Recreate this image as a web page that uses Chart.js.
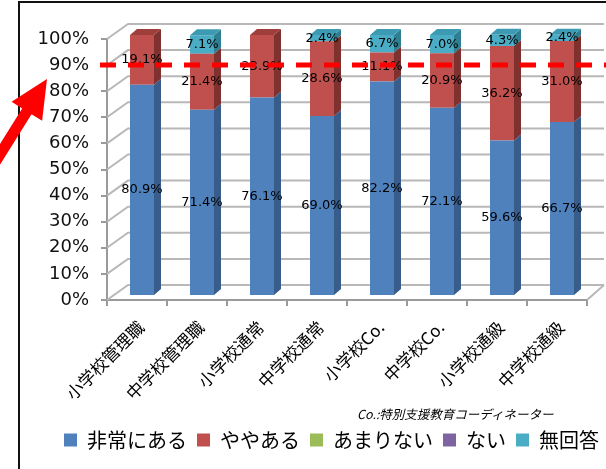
<!DOCTYPE html>
<html>
<head>
<meta charset="utf-8">
<script src="https://cdn.jsdelivr.net/npm/chart.js@4"></script>
<style>
  body { margin: 0; background: #fff; }
  #wrap { position: relative; width: 606px; height: 469px; }
  #note { position: absolute; left: 357px; top: 404px; font: italic 12.5px 'Noto Sans CJK JP'; color: #000; white-space: nowrap; }
</style>
</head>
<body>
<div id="wrap">
  <canvas id="chart" width="606" height="469"></canvas>
  <div id="note">Co.:特別支援教育コーディネーター</div>
</div>
<script>
// --- Data ---
const categories = ['小学校管理職', '中学校管理職', '小学校通常', '中学校通常', '小学校Co.', '中学校Co.', '小学校通級', '中学校通級'];
const seriesNames = ['非常にある', 'ややある', 'あまりない', 'ない', '無回答'];
const veryMuch = [80.9, 71.4, 76.1, 69.0, 82.2, 72.1, 59.6, 66.7];
const somewhat = [19.1, 21.4, 23.9, 28.6, 11.1, 20.9, 36.2, 31.0];
const notMuch = [0, 0, 0, 0, 0, 0, 0, 0];
const notAtAll = [0, 0, 0, 0, 0, 0, 0, 0];
const noAnswer = [0, 7.1, 0, 2.4, 6.7, 7.0, 4.3, 2.4];
const yMin = 0, yMax = 100, yStep = 10;
const targetLine = 90;

// --- Styles ---
const frontColors = ['#4f81bd', '#c0504d', '#9bbb59', '#8064a2', '#4bacc6'];
const sideColors = ['#385d8a', '#7f312f', '#71893f', '#5c4776', '#2f7f92'];
const topColors = ['#4270a6', '#9f3f3c', '#84a04a', '#6c548a', '#3c9bb2'];
const BAR_DX = 7, BAR_DY = 6;      // bar depth
const WALL_DX = 21, WALL_DY = 15;  // back wall depth
const SHIFT_X = 5, SHIFT_Y = -4;   // bars sit a little behind the front axis

const seriesValues = [veryMuch, somewhat, notMuch, notAtAll, noAnswer];

const threeD = {
    id: 'threeD',
    beforeDraw(chart) {
        const { ctx } = chart;
        // outer frame
        ctx.save();
        ctx.strokeStyle = '#111';
        ctx.lineWidth = 2;
        ctx.beginPath();
        ctx.moveTo(19, 469); ctx.lineTo(19, 2); ctx.lineTo(606, 2);
        ctx.stroke();
        ctx.restore();
    },
    beforeDatasetsDraw(chart) {
        const { ctx, chartArea: a, scales: { y } } = chart;
        ctx.save();
        ctx.strokeStyle = '#b8b8b8';
        ctx.lineWidth = 2;
        y.ticks.forEach(t => {
            const py = y.getPixelForValue(t.value);
            ctx.beginPath();
            ctx.moveTo(a.left, py);
            ctx.lineTo(a.left + WALL_DX, py - WALL_DY);
            ctx.lineTo(a.right + WALL_DX - 4, py - WALL_DY);
            ctx.stroke();
        });
        ctx.beginPath();
        ctx.moveTo(a.right, a.bottom);
        ctx.lineTo(a.right + WALL_DX - 4, a.bottom - WALL_DY);
        ctx.stroke();
        ctx.restore();

        ctx.save();
        ctx.translate(SHIFT_X, SHIFT_Y);
    },
    afterDatasetsDraw(chart) {
        const { ctx } = chart;
        const n = categories.length;
        for (let j = 0; j < n; j++) {
            let topIdx = -1;
            seriesValues.forEach((vals, i) => { if (vals[j] > 0) topIdx = i; });
            seriesValues.forEach((vals, i) => {
                if (!(vals[j] > 0)) return;
                const bar = chart.getDatasetMeta(i).data[j];
                const right = bar.x + bar.width / 2, left = bar.x - bar.width / 2;
                const top = Math.min(bar.y, bar.base), bottom = Math.max(bar.y, bar.base);
                ctx.fillStyle = sideColors[i];
                ctx.beginPath();
                ctx.moveTo(right, bottom);
                ctx.lineTo(right, top);
                ctx.lineTo(right + BAR_DX, top - BAR_DY);
                ctx.lineTo(right + BAR_DX, bottom - BAR_DY);
                ctx.closePath();
                ctx.fill();
                if (i === topIdx) {
                    ctx.fillStyle = topColors[i];
                    ctx.beginPath();
                    ctx.moveTo(left, top);
                    ctx.lineTo(left + BAR_DX, top - BAR_DY);
                    ctx.lineTo(right + BAR_DX, top - BAR_DY);
                    ctx.lineTo(right, top);
                    ctx.closePath();
                    ctx.fill();
                }
            });
        }
        // value labels
        ctx.font = '13px "DejaVu Sans"';
        ctx.fillStyle = '#000';
        ctx.textAlign = 'center';
        ctx.textBaseline = 'middle';
        seriesValues.forEach((vals, i) => {
            chart.getDatasetMeta(i).data.forEach((bar, j) => {
                if (!(vals[j] > 0)) return;
                ctx.fillText(vals[j].toFixed(1) + '%', bar.x, (bar.y + bar.base) / 2);
            });
        });
        ctx.restore();
    },
    afterDraw(chart) {
        const { ctx, scales: { y } } = chart;
        const py = y.getPixelForValue(targetLine);
        // red dashed target line
        ctx.save();
        ctx.strokeStyle = '#ff0000';
        ctx.lineWidth = 5;
        ctx.setLineDash([16, 12]);
        ctx.beginPath();
        ctx.moveTo(100, py);
        ctx.lineTo(606, py);
        ctx.stroke();
        ctx.restore();

        // red arrow pointing at the 90% label
        const tipX = 47, tipY = py + 14;
        const ux = 0.53, uy = -0.848, nx = 0.848, ny = 0.53;
        const headL = 38, headW = 18, shaftW = 5.5;
        const bx = tipX - ux * headL, by = tipY - uy * headL;
        const ex = tipX - ux * 140, ey = tipY - uy * 140;
        ctx.save();
        ctx.fillStyle = '#ff0000';
        ctx.beginPath();
        ctx.moveTo(tipX, tipY);
        ctx.lineTo(bx + nx * headW, by + ny * headW);
        ctx.lineTo(bx + nx * shaftW, by + ny * shaftW);
        ctx.lineTo(ex + nx * shaftW, ey + ny * shaftW);
        ctx.lineTo(ex - nx * shaftW, ey - ny * shaftW);
        ctx.lineTo(bx - nx * shaftW, by - ny * shaftW);
        ctx.lineTo(bx - nx * headW, by - ny * headW);
        ctx.closePath();
        ctx.fill();
        ctx.restore();
    },
    afterLayout(chart) {
        // legend sits right of centre in the original
        chart.legend.left += 38;
        chart.legend.right += 38;
    }
};

new Chart(document.getElementById('chart'), {
    type: 'bar',
    data: {
        labels: categories,
        datasets: seriesNames.map((name, i) => ({
            label: name,
            data: seriesValues[i],
            backgroundColor: frontColors[i],
            borderWidth: 0,
            clip: false
        }))
    },
    options: {
        responsive: false,
        animation: false,
        devicePixelRatio: 1,
        layout: { padding: { top: 39, right: 19, bottom: 9, left: 0 } },
        datasets: { bar: { categoryPercentage: 1, barPercentage: 0.4 } },
        scales: {
            x: {
                stacked: true,
                afterFit(s) { s.height = 120; },
                grid: { drawOnChartArea: false, drawTicks: true, tickLength: 6, color: '#9a9a9a', lineWidth: 2 },
                border: { display: true, color: '#9a9a9a', width: 2 },
                ticks: {
                    minRotation: 45, maxRotation: 45, padding: 11, labelOffset: 4,
                    color: '#000', font: { size: 17, family: '"Noto Sans CJK JP"' }
                }
            },
            y: {
                stacked: true,
                min: yMin, max: yMax,
                afterFit(s) { s.width = 107; },
                grid: { drawOnChartArea: false, drawTicks: true, tickLength: 6, color: '#9a9a9a', lineWidth: 2 },
                border: { display: true, color: '#9a9a9a', width: 2 },
                ticks: {
                    stepSize: yStep, padding: 12,
                    color: '#111', font: { size: 18, family: '"DejaVu Sans"' },
                    callback: v => v + '%'
                }
            }
        },
        plugins: {
            legend: {
                position: 'bottom',
                labels: {
                    boxWidth: 13, boxHeight: 13, padding: 10,
                    color: '#000', font: { size: 20, family: '"Noto Sans CJK JP"' }
                }
            },
            tooltip: { enabled: false }
        }
    },
    plugins: [threeD]
});
</script>
</body>
</html>
